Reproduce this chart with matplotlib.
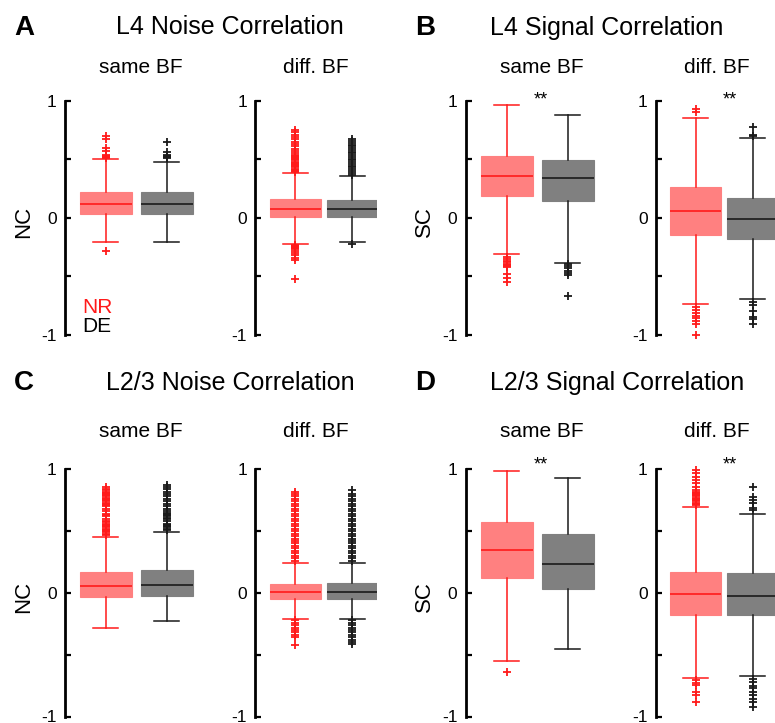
import matplotlib
matplotlib.use("Agg")
import matplotlib.pyplot as plt

plt.rcParams['font.family'] = ['Liberation Sans', 'DejaVu Sans']
plt.rcParams['axes.unicode_minus'] = False

# order of each list: same BF NR, same BF DE, diff. BF NR, diff. BF DE
l4_nc_med = [0.12, 0.12, 0.074, 0.074]
l4_nc_q1 = [0.03, 0.03, 0.003, 0.006]
l4_nc_q3 = [0.22, 0.22, 0.157, 0.151]
l4_nc_wlo = [-0.21, -0.205, -0.22, -0.205]
l4_nc_whi = [0.50, 0.48, 0.38, 0.36]
l4_nc_fliers = [
    [0.51, 0.52, 0.53, 0.54, 0.57, 0.60, 0.67, 0.70, -0.28],
    [0.51, 0.52, 0.53, 0.54, 0.56, 0.65],
    [0.39, 0.40, 0.41, 0.42, 0.43, 0.44, 0.45, 0.46, 0.47, 0.48, 0.49, 0.50,
     0.51, 0.52, 0.53, 0.54, 0.55, 0.57, 0.59, 0.61, 0.63, 0.65, 0.67, 0.69,
     0.71, 0.73, 0.75,
     -0.23, -0.24, -0.25, -0.26, -0.27, -0.28, -0.30, -0.32, -0.34, -0.36, -0.52],
    [0.37, 0.385, 0.40, 0.415, 0.43, 0.445, 0.46, 0.475, 0.49, 0.505, 0.52,
     0.535, 0.55, 0.565, 0.58, 0.595, 0.61, 0.625, 0.64, 0.655, 0.67, -0.22],
]

l4_sc_med = [0.36, 0.34, 0.057, -0.01]
l4_sc_q1 = [0.19, 0.14, -0.145, -0.18]
l4_sc_q3 = [0.53, 0.49, 0.26, 0.17]
l4_sc_wlo = [-0.31, -0.384, -0.736, -0.693]
l4_sc_whi = [0.96, 0.88, 0.855, 0.679]
l4_sc_fliers = [
    [-0.33, -0.35, -0.37, -0.38, -0.39, -0.40, -0.41, -0.42, -0.48, -0.51, -0.55],
    [-0.395, -0.41, -0.43, -0.45, -0.475, -0.49, -0.665],
    [0.906, 0.926, -0.764, -0.787, -0.81, -0.835, -0.855, -0.884, -0.906, -1.0],
    [0.699, 0.707, 0.778, -0.72, -0.74, -0.798, -0.85, -0.866, -0.906],
]

l23_nc_med = [0.054, 0.06, 0.01, 0.011]
l23_nc_q1 = [-0.03, -0.027, -0.046, -0.046]
l23_nc_q3 = [0.17, 0.183, 0.075, 0.078]
l23_nc_wlo = [-0.28, -0.224, -0.21, -0.213]
l23_nc_whi = [0.455, 0.49, 0.243, 0.245]
l23_nc_fliers = [
    [0.47, 0.48, 0.49, 0.50, 0.51, 0.52, 0.53, 0.54, 0.55, 0.56, 0.57, 0.58,
     0.60, 0.62, 0.63, 0.64, 0.66, 0.68, 0.70, 0.71, 0.72, 0.73, 0.74, 0.75,
     0.76, 0.77, 0.78, 0.79, 0.80, 0.81, 0.82, 0.83, 0.84, 0.86],
    [0.51, 0.52, 0.53, 0.54, 0.55, 0.56, 0.58, 0.60, 0.61, 0.62, 0.63, 0.64,
     0.65, 0.66, 0.68, 0.70, 0.72, 0.74, 0.76, 0.78, 0.80, 0.82, 0.84, 0.86, 0.87],
    [0.26, 0.28, 0.30, 0.32, 0.34, 0.36, 0.38, 0.40, 0.42, 0.44, 0.46, 0.48,
     0.50, 0.52, 0.54, 0.56, 0.58, 0.60, 0.62, 0.64, 0.66, 0.68, 0.70, 0.72,
     0.74, 0.76, 0.78, 0.80, 0.82,
     -0.22, -0.24, -0.26, -0.28, -0.30, -0.32, -0.34, -0.36, -0.42],
    [0.26, 0.28, 0.30, 0.32, 0.34, 0.36, 0.38, 0.40, 0.42, 0.44, 0.46, 0.48,
     0.50, 0.52, 0.54, 0.56, 0.58, 0.60, 0.62, 0.64, 0.66, 0.68, 0.70, 0.72,
     0.74, 0.76, 0.78, 0.80, 0.83,
     -0.22, -0.24, -0.26, -0.28, -0.30, -0.32, -0.34, -0.36, -0.38, -0.40, -0.41],
]

l23_sc_med = [0.351, 0.235, -0.008, -0.024]
l23_sc_q1 = [0.119, 0.035, -0.178, -0.18]
l23_sc_q3 = [0.576, 0.478, 0.173, 0.157]
l23_sc_wlo = [-0.554, -0.451, -0.69, -0.67]
l23_sc_whi = [0.99, 0.932, 0.695, 0.638]
l23_sc_fliers = [
    [-0.64],
    [],
    [0.71, 0.72, 0.73, 0.74, 0.75, 0.76, 0.77, 0.78, 0.79, 0.80, 0.81, 0.82,
     0.83, 0.86, 0.886, 0.91, 0.94, 0.967, 0.995,
     -0.708, -0.727, -0.743, -0.80, -0.83, -0.884],
    [0.67, 0.684, 0.724, 0.751, 0.778, 0.86,
     -0.695, -0.72, -0.75, -0.77, -0.80, -0.83, -0.857, -0.884, -0.924],
]

panel_letters = ['A', 'B', 'C', 'D']
panel_titles = ['L4 Noise Correlation', 'L4 Signal Correlation',
                'L2/3 Noise Correlation', 'L2/3 Signal Correlation']
ylabels = ['NC', 'SC', 'NC', 'SC']
sub_titles = ['same BF', 'diff. BF']
group_names = ['NR', 'DE']
signif = [False, True, False, True]

panels = [
    (l4_nc_med, l4_nc_q1, l4_nc_q3, l4_nc_wlo, l4_nc_whi, l4_nc_fliers),
    (l4_sc_med, l4_sc_q1, l4_sc_q3, l4_sc_wlo, l4_sc_whi, l4_sc_fliers),
    (l23_nc_med, l23_nc_q1, l23_nc_q3, l23_nc_wlo, l23_nc_whi, l23_nc_fliers),
    (l23_sc_med, l23_sc_q1, l23_sc_q3, l23_sc_wlo, l23_sc_whi, l23_sc_fliers),
]

W, H = 775, 723


def fx(x):
    return x / W


def fy(y):
    return 1 - y / H


fig = plt.figure(figsize=(W / 100, H / 100), dpi=100)

# layout in pixels
panel_x0 = [65, 465.7]          # spine of "same BF" axes, left / right panel
sub_dx = [0, 190.5]             # offset of "diff. BF" axes
sub_w = [152, 121]
sub_unit = [61, 57]             # pixels per box position
sub_xmin = [0.328, 0.307]
rows_top = [100.7, 469.3]
rows_bot = [335, 716.5]
sub_title_base = [72.7, 437]
title_base = [34.5, 390]

nr_color = '#ff8080'
de_color = '#808080'
line_colors = ['#ff1a1a', '#1a1a1a']
fill_colors = [nr_color, de_color]

for p in range(4):
    row, col = divmod(p, 2)
    med, q1, q3, wlo, whi, fl = panels[p]
    top, bot = rows_top[row], rows_bot[row]

    # panel letter and title
    fig.text(fx(panel_x0[col] - 51), fy(title_base[row] + 0.5), panel_letters[p],
             fontsize=20, fontweight='bold', ha='left', va='baseline')
    if col == 0:
        fig.text(fx(230), fy(title_base[row]), panel_titles[p], fontsize=18,
                 ha='center', va='baseline')
    else:
        fig.text(fx(490), fy(title_base[row]), panel_titles[p], fontsize=18,
                 ha='left', va='baseline')
    fig.text(fx(panel_x0[col] - 41), fy((top + bot) / 2 + 4), ylabels[p],
             fontsize=16, rotation=90, ha='center', va='center')

    for s in range(2):
        left = panel_x0[col] + sub_dx[s]
        ax = fig.add_axes([fx(left), fy(bot), sub_w[s] / W, (bot - top) / H])
        unit = sub_unit[s]
        ax.set_xlim(sub_xmin[s], sub_xmin[s] + sub_w[s] / unit)
        ax.set_ylim(-1, 1)

        for g in range(2):
            k = 2 * s + g
            stats = [dict(med=med[k], q1=q1[k], q3=q3[k], whislo=wlo[k],
                          whishi=whi[k], fliers=fl[k])]
            lc = line_colors[g]
            art = ax.bxp(stats, positions=[g + 1], widths=[52 / unit if s == 0 else 51 / unit],
                         capwidths=[25 / unit], patch_artist=True, manage_ticks=False,
                         boxprops=dict(facecolor=fill_colors[g], edgecolor=fill_colors[g],
                                       linewidth=0.8),
                         whiskerprops=dict(color=lc, linewidth=1.1),
                         capprops=dict(color=lc, linewidth=1.1),
                         medianprops=dict(color=lc, linewidth=1.2),
                         flierprops=dict(marker='+', markeredgecolor=lc,
                                         markersize=5.5, markeredgewidth=1.3,
                                         linestyle='none'))
            for f in art['fliers']:
                f.set_clip_on(False)

        for side in ['top', 'right', 'bottom']:
            ax.spines[side].set_visible(False)
        ax.spines['left'].set_linewidth(2)
        ax.set_xticks([])
        ax.set_yticks([-1, -0.5, 0, 0.5, 1])
        ax.set_yticklabels(['-1', '', '0', '', '1'])
        ax.tick_params(axis='y', direction='in', length=4, width=1.6,
                       pad=6, labelsize=12.5)
        ax.patch.set_alpha(0)

        fig.text(fx(left + sub_w[s] / 2), fy(sub_title_base[row]), sub_titles[s],
                 fontsize=15, ha='center', va='baseline')

        if signif[p]:
            sx = 1.557 if s == 0 else 1.595
            sy = 0.97 if row == 0 else 1.0
            ax.text(sx, sy, '**', fontsize=13, ha='center', va='baseline')

        if p == 0 and s == 0:
            ax.text(0.607, -0.81, group_names[0], color='#ff1a1a', fontsize=15,
                    ha='left', va='baseline')
            ax.text(0.607, -0.975, group_names[1], color='black', fontsize=15,
                    ha='left', va='baseline')

fig.savefig('out.png', dpi=100)
